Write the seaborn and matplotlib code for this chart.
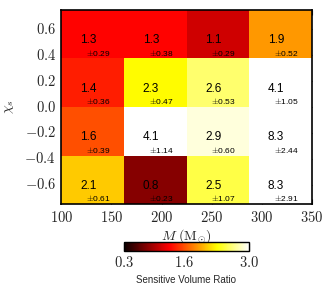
import numpy as np
import pandas as pd
import matplotlib
matplotlib.use("Agg")
import matplotlib.pyplot as plt
import seaborn as sns

# grid edges (mass, spin) and cell values, rows listed top (high chi) to bottom
mass_edges = [100, 162.5, 225, 287.5, 350]
chi_edges = [0.75, 0.375, 0.0, -0.375, -0.75]
ratio = [
    [1.3, 1.3, 1.1, 1.9],
    [1.4, 2.3, 2.6, 4.1],
    [1.6, 4.1, 2.9, 8.3],
    [2.1, 0.8, 2.5, 8.3],
]
ratio_err = [
    [0.29, 0.38, 0.29, 0.52],
    [0.36, 0.47, 0.53, 1.05],
    [0.39, 1.14, 0.60, 2.44],
    [0.61, 0.23, 1.07, 2.91],
]
x_ticks = [100, 150, 200, 250, 300, 350]
y_ticks = [-0.6, -0.4, -0.2, 0.0, 0.2, 0.4, 0.6]
cbar_ticks = [0.3, 1.6, 3.0]

sns.set_style("ticks")
plt.rcParams['mathtext.fontset'] = 'cm'
plt.rcParams['font.family'] = ['Liberation Sans', 'DejaVu Sans']

df = pd.DataFrame(ratio)
fig = plt.figure(figsize=(3.32, 2.92), dpi=100)
ax = fig.add_axes([0.185, 0.301, 0.754, 0.665])
cax = fig.add_axes([0.373, 0.142, 0.377, 0.028])

sns.heatmap(df, ax=ax, cmap='hot', vmin=0.3, vmax=3.0, cbar_ax=cax,
            cbar_kws={'orientation': 'horizontal', 'ticks': cbar_ticks})

# annotations
for i in range(len(ratio)):
    for j in range(len(ratio[i])):
        ax.text(j + 0.43, i + 0.62, f"{ratio[i][j]:.1f}", ha='center', va='center',
                fontsize=8.5, color='black')
        ax.text(j + 0.59, i + 0.88, r"$\pm$" + f"{ratio_err[i][j]:.2f}", ha='center',
                va='center', fontsize=6, color='black')

# numeric axes on top of the cell index coordinates
xpos = np.interp(x_ticks, mass_edges, np.arange(len(mass_edges)))
ypos = np.interp(y_ticks, chi_edges[::-1], np.arange(len(chi_edges))[::-1])
ax.set_xticks(xpos)
ax.set_xticklabels([f"${v:d}$" for v in x_ticks], fontsize=10.5, rotation=0)
ax.set_yticks(ypos)
ax.set_yticklabels([f"${v:.1f}$" for v in y_ticks], fontsize=10.5, rotation=0)
ax.tick_params(direction='in', length=3.5, width=0.8, top=True, right=True, pad=4)
for sp in ax.spines.values():
    sp.set_visible(True)
    sp.set_linewidth(1.2)
    sp.set_color('black')
ax.set_xlabel(r"$M\ (\mathrm{M}_{\odot})$", fontsize=10, labelpad=2)
ax.set_ylabel(r"$\chi_s$", fontsize=10, labelpad=6)

cb = ax.collections[0].colorbar
cb.outline.set_visible(True)
cb.outline.set_linewidth(1.0)
cb.outline.set_edgecolor('black')
cb.ax.tick_params(direction='in', length=5.5, width=0.8, color='black', pad=3)
cb.ax.set_xticklabels([f"${v:.1f}$" for v in cbar_ticks], fontsize=10.5)
cb.set_label("Sensitive Volume Ratio", fontsize=7, labelpad=4)

fig.savefig("out.png", dpi=100)
